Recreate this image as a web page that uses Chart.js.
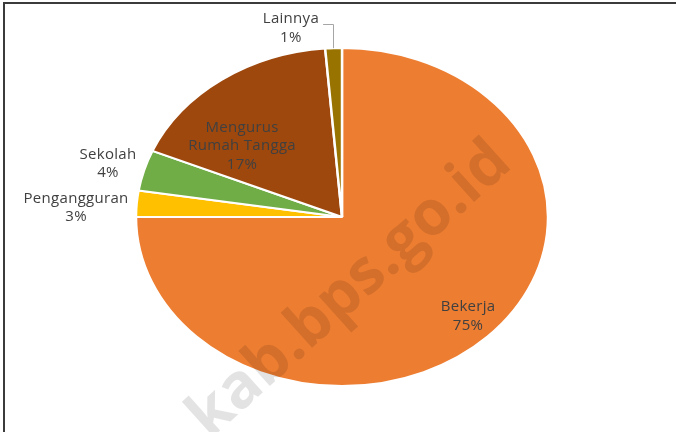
<!DOCTYPE html>
<html>
<head>
<meta charset="utf-8">
<script src="https://cdn.jsdelivr.net/npm/chart.js@4.4.0/dist/chart.umd.min.js"></script>
<style>
  html,body{margin:0;padding:0;background:#fff;}
  #wrap{width:676px;height:432px;position:relative;}
</style>
</head>
<body>
<div id="wrap"><canvas id="pie" width="676" height="432"></canvas></div>
<script>
// ====== Data ======
const kategori = ['Bekerja', 'Pengangguran', 'Sekolah', ['Mengurus', 'Rumah Tangga'], 'Lainnya'];
const persen   = [75.0, 2.5, 3.9, 17.3, 1.3];
const warna    = ['#ED7D31', '#FFC000', '#70AD47', '#9E480E', '#997300'];

// ====== Layout ======
const RY = 169, RX = 206;              // pie drawn as ellipse like the excel original
// label anchor relative to pie centre, in units of rx / ry
const posLabel = [[0.612, 0.586], [-1.291, -0.056], [-1.136, -0.314], [-0.485, -0.42], [-0.248, -1.117]];
const FONT = '15px "Open Sans", sans-serif';
const LINE_H = 18.5;

const ellipse = {
  id: 'ellipse',
  beforeDatasetsDraw(chart){
    const a = chart.getDatasetMeta(0).data[0], c = chart.ctx;
    c.save(); c.translate(a.x, a.y); c.scale(RX/RY, 1); c.translate(-a.x, -a.y);
  },
  afterDatasetsDraw(chart){ chart.ctx.restore(); }
};

const hiasan = {
  id: 'hiasan',
  afterDraw(chart){
    const c = chart.ctx, meta = chart.getDatasetMeta(0), a = meta.data[0];
    const cx = a.x, cy = a.y, sx = RX/RY;
    const total = persen.reduce((s, v) => s + v, 0);

    // watermark
    c.save();
    c.translate(350, 290); c.rotate(-42 * Math.PI/180);
    c.font = 'bold 62px "Open Sans", sans-serif';
    c.fillStyle = 'rgba(0,0,0,0.11)'; c.textAlign = 'center'; c.textBaseline = 'middle';
    c.fillText('kab.bps.go.id', 0, 0);
    c.restore();

    // frame
    c.fillStyle = '#3b3b3b';
    c.fillRect(3, 2, 673, 2);
    c.fillRect(3, 2, 2, 430);

    // labels
    c.save();
    c.font = FONT; c.fillStyle = '#404040'; c.textAlign = 'center'; c.textBaseline = 'middle';
    c.letterSpacing = '0.3px';
    meta.data.forEach((arc, i) => {
      const lines = [].concat(kategori[i], Math.round(persen[i] / total * 100) + '%');
      const x = cx + posLabel[i][0] * arc.outerRadius * sx;
      const y = cy + posLabel[i][1] * arc.outerRadius;
      const y0 = y - (lines.length - 1) * LINE_H / 2;
      lines.forEach((t, k) => c.fillText(t, x, y0 + k * LINE_H));
    });
    c.restore();

    // leader line for Lainnya
    const last = meta.data[meta.data.length - 1];
    const mid = (last.startAngle + last.endAngle) / 2;
    const ex = cx + Math.cos(mid) * last.outerRadius * sx;
    const ey = cy + Math.sin(mid) * last.outerRadius;
    c.save();
    c.strokeStyle = '#a6a6a6'; c.lineWidth = 1;
    c.beginPath();
    c.moveTo(ex - 10.5, 24.5); c.lineTo(Math.round(ex) - 0.5, 24.5); c.lineTo(Math.round(ex) - 0.5, ey);
    c.stroke();
    c.restore();
  }
};

new Chart(document.getElementById('pie'), {
  type: 'pie',
  data: {
    labels: kategori,
    datasets: [{ data: persen, backgroundColor: warna, borderColor: '#ffffff', borderWidth: 2, radius: RY }]
  },
  options: {
    responsive: false,
    animation: false,
    layout: { padding: { left: 8, top: 48, bottom: 46, right: 0 } },
    plugins: { legend: { display: false }, tooltip: { enabled: false } }
  },
  plugins: [ellipse, hiasan]
});
</script>
</body>
</html>
